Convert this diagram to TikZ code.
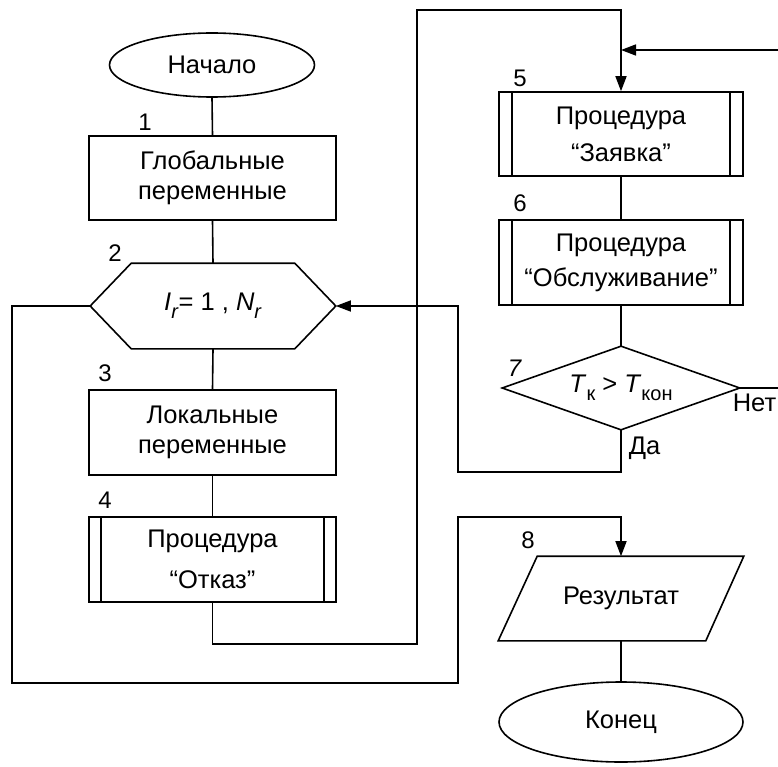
\documentclass[tikz,border=0pt]{standalone}
\usepackage{fontspec}
\setmainfont{Liberation Sans}
\usetikzlibrary{arrows.meta,shapes.geometric}
\newcommand\lowsub[1]{\raisebox{-0.32em}{\fontsize{20}{20}\selectfont #1}}
\begin{document}
\begin{tikzpicture}[x=1pt,y=-1pt, line width=1.6pt,
  every node/.style={font=\fontsize{25.5}{30}\selectfont},
  box/.style={draw, minimum width=247, minimum height=84, align=center, inner sep=0pt},
  shell/.style={minimum width=#1, minimum height=84, align=center, inner sep=0pt},
  term/.style={ellipse, draw, inner sep=0pt},
  num/.style={font=\fontsize{24}{24}\selectfont, inner sep=0pt},
  arr/.style={-{Triangle[length=15pt,width=11pt]}}
]
\useasboundingbox (0,0) rectangle (778,767);

% nodes
\node[term, minimum width=205, minimum height=64] (start) at (212,65) {Начало};
\node[box] (b1) at (212.5,178) {Глобальные\\переменные};
\node[shell=244] (hex) at (213,306) {\textit{I}\lowsub{\textit{r}}= 1 , \textit{N}\lowsub{\textit{r}}};
\draw (hex.west) -- ([xshift=41pt]hex.north west) -- ([xshift=-41pt]hex.north east)
  -- (hex.east) -- ([xshift=-41pt]hex.south east) -- ([xshift=41pt]hex.south west) -- cycle;
\node[box, minimum height=85] (b3) at (212.5,432.5) {Локальные\\переменные};
\node[box, minimum height=85, font=\fontsize{25.5}{41}\selectfont] (b4) at (212.5,559.5) {Процедура\\“Отказ”};
\draw ([xshift=13pt]b4.north west) -- ([xshift=13pt]b4.south west)
      ([xshift=-13pt]b4.north east) -- ([xshift=-13pt]b4.south east);

\node[box, minimum width=244, font=\fontsize{25.5}{37}\selectfont] (b5) at (621,134) {Процедура\\“Заявка”};
\draw ([xshift=14pt]b5.north west) -- ([xshift=14pt]b5.south west)
      ([xshift=-14pt]b5.north east) -- ([xshift=-14pt]b5.south east);
\node[box, minimum width=244, minimum height=85, font=\fontsize{25.5}{35}\selectfont] (b6) at (621,262.5) {Процедура\\“Обслуживание”};
\draw ([xshift=14pt]b6.north west) -- ([xshift=14pt]b6.south west)
      ([xshift=-14pt]b6.north east) -- ([xshift=-14pt]b6.south east);

\node[shell=236, minimum height=82] (d7) at (621,388) {\raisebox{-4pt}{\textit{T}\lowsub{к} > \textit{T}\lowsub{кон}}};
\draw (d7.west) -- (d7.north) -- (d7.east) -- (d7.south) -- cycle;

\node[shell=244, minimum height=83] (b8) at (621,598.5) {Результат};
\draw ([xshift=39pt]b8.north west) -- (b8.north east) -- ([xshift=-38pt]b8.south east)
  -- (b8.south west) -- cycle;
\node[term, minimum width=244, minimum height=80] (end) at (621,722) {Конец};

% numbers
\node[num] (n1) at (145,122) {1};
\node[num] (n2) at (115,253) {2};
\node[num] (n3) at (105,373) {3};
\node[num] (n4) at (105,500) {4};
\node[num] (n5) at (520,78) {5};
\node[num] (n6) at (520,203) {6};
\node[num] (n7) at (515,368) {\textit{7}};
\node[num] (n8) at (528,540) {8};

% free ends at the right edge
\coordinate (inR) at (778,50);
\coordinate (outR) at (778,388);

% connectors
\draw (start.south) -- (b1.north);
\draw (b1.south) -- (hex.north);
\draw (hex.south) -- (b3.north);
\draw (b3.south) -- (b4.north);
\draw[arr] (b4.south) -- ++(0,41) -| (417,10) -| (b5.north);
\draw[arr] (inR) -- (inR -| b5.north);
\draw (b5.south) -- (b6.north);
\draw (b6.south) -- (d7.north);
\draw[arr] (d7.south) |- (458,472) |- (hex.east);
\draw (d7.east) -- (outR);
\draw[arr] (hex.west) -| (12,683) -| (458,517) -| (b8.north);
\draw (b8.south) -- (end.north);

% branch labels
\node[anchor=west, inner sep=0pt] (yes) at (628,448) {Да};
\node[anchor=north east, inner sep=0pt] (no) at (777,393) {Нет};
\end{tikzpicture}
\end{document}
